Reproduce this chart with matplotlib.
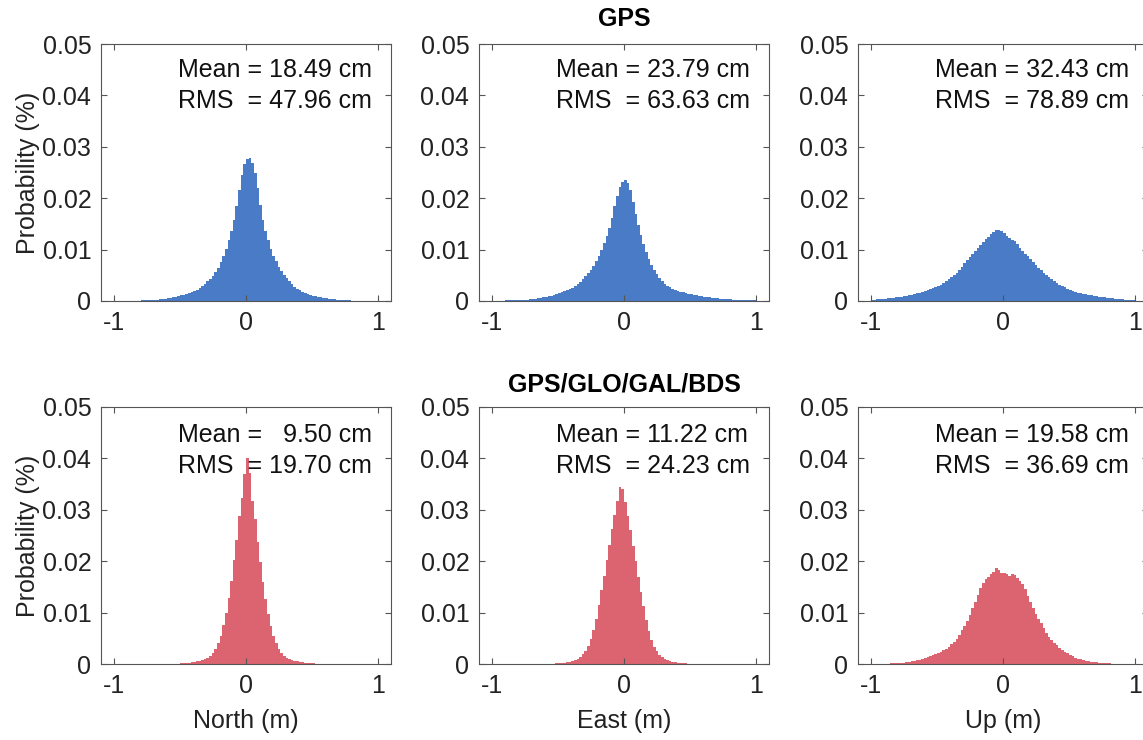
import numpy as np
import matplotlib.pyplot as plt

plt.rcParams["font.family"] = ["Liberation Sans", "DejaVu Sans"]

# bin edges (m), 0.02 m wide, shared by all panels
edges = np.linspace(-1.0, 1.0, 101)

# probability per bin (%), GPS only
gps_north = [0]*10 + [0.0001]*5 + [
    0.0002, 0.0002, 0.0003, 0.0003, 0.0004, 0.0005, 0.0006, 0.0007, 0.0008, 0.0010,
    0.0011, 0.0012, 0.0014, 0.0016, 0.0018, 0.0020, 0.0022, 0.0025, 0.0029, 0.0033,
    0.0038, 0.0043, 0.0049, 0.0056, 0.0065, 0.0075, 0.0088, 0.0102, 0.0119, 0.0137,
    0.0158, 0.0185, 0.0216, 0.0245, 0.0266, 0.0276, 0.0278, 0.0268, 0.0249, 0.0219,
    0.0186, 0.0158, 0.0136, 0.0118, 0.0101, 0.0087, 0.0077, 0.0067, 0.0058, 0.0051,
    0.0044, 0.0038, 0.0033, 0.0028, 0.0024, 0.0021, 0.0018, 0.0016, 0.0014, 0.0012,
    0.0010, 0.0009, 0.0008, 0.0007, 0.0006, 0.0005, 0.0004, 0.0003, 0.0003, 0.0002,
    0.0002] + [0.0001]*4 + [0]*10

gps_east = [0]*5 + [0.0001]*6 + [
    0.0002, 0.0002, 0.0002, 0.0003, 0.0003, 0.0004, 0.0005, 0.0006, 0.0007, 0.0008,
    0.0009, 0.0010, 0.0012, 0.0014, 0.0015, 0.0017, 0.0019, 0.0021, 0.0023, 0.0026,
    0.0029, 0.0033, 0.0037, 0.0042, 0.0048, 0.0054, 0.0061, 0.0069, 0.0078, 0.0088,
    0.0099, 0.0112, 0.0126, 0.0142, 0.0162, 0.0184, 0.0204, 0.0221, 0.0232, 0.0235,
    0.0229, 0.0216, 0.0192, 0.0169, 0.0148, 0.0128, 0.0111, 0.0095, 0.0082, 0.0071,
    0.0061, 0.0052, 0.0045, 0.0039, 0.0034, 0.0030, 0.0027, 0.0024, 0.0022, 0.0020,
    0.0018, 0.0017, 0.0015, 0.0014, 0.0013, 0.0012, 0.0011, 0.0010, 0.0009, 0.0008,
    0.0007, 0.0007, 0.0006, 0.0005, 0.0005, 0.0004, 0.0004, 0.0003, 0.0003, 0.0003,
    0.0002, 0.0002, 0.0002, 0.0002] + [0.0001]*5

gps_up = [
    0.0002, 0.0002, 0.0003, 0.0003, 0.0004, 0.0004, 0.0005, 0.0005, 0.0006, 0.0007,
    0.0007, 0.0008, 0.0009, 0.0010, 0.0011, 0.0012, 0.0014, 0.0015, 0.0016, 0.0018,
    0.0019, 0.0021, 0.0023, 0.0025, 0.0027, 0.0029, 0.0032, 0.0035, 0.0039, 0.0043,
    0.0047, 0.0051, 0.0055, 0.0061, 0.0067, 0.0073, 0.0079, 0.0085, 0.0091, 0.0097,
    0.0103, 0.0108, 0.0114, 0.0120, 0.0125, 0.0130, 0.0134, 0.0138, 0.0139, 0.0136,
    0.0132, 0.0127, 0.0122, 0.0118, 0.0116, 0.0110, 0.0104, 0.0098, 0.0092, 0.0087,
    0.0081, 0.0076, 0.0070, 0.0065, 0.0060, 0.0055, 0.0051, 0.0047, 0.0043, 0.0039,
    0.0035, 0.0032, 0.0029, 0.0027, 0.0024, 0.0022, 0.0020, 0.0018, 0.0016, 0.0015,
    0.0014, 0.0013, 0.0012, 0.0011, 0.0010, 0.0009, 0.0008, 0.0007, 0.0007, 0.0006,
    0.0005, 0.0005, 0.0004, 0.0004, 0.0003, 0.0003, 0.0002, 0.0002, 0.0002, 0.0001]

# probability per bin (%), GPS/GLO/GAL/BDS
multi_north = [0]*25 + [
    0.0001, 0.0001, 0.0002, 0.0002, 0.0003, 0.0004, 0.0005, 0.0006, 0.0007, 0.0009,
    0.0011, 0.0015, 0.0021, 0.0029, 0.0040, 0.0055, 0.0075, 0.0099, 0.0129, 0.0161,
    0.0202, 0.0242, 0.0287, 0.0322, 0.0370, 0.0400, 0.0372, 0.0318, 0.0283, 0.0238,
    0.0198, 0.0159, 0.0127, 0.0097, 0.0073, 0.0055, 0.0040, 0.0029, 0.0021, 0.0016,
    0.0012, 0.0009, 0.0007, 0.0006, 0.0005, 0.0004, 0.0003, 0.0002, 0.0002, 0.0001,
    0.0001] + [0]*24

multi_east = [0]*24 + [
    0.0001, 0.0001, 0.0002, 0.0002, 0.0003, 0.0004, 0.0006, 0.0008, 0.0010, 0.0014,
    0.0019, 0.0026, 0.0035, 0.0048, 0.0066, 0.0088, 0.0114, 0.0143, 0.0172, 0.0202,
    0.0232, 0.0262, 0.0290, 0.0318, 0.0345, 0.0340, 0.0316, 0.0288, 0.0260, 0.0230,
    0.0200, 0.0170, 0.0141, 0.0112, 0.0086, 0.0064, 0.0047, 0.0034, 0.0025, 0.0018,
    0.0013, 0.0010, 0.0007, 0.0005, 0.0004, 0.0003, 0.0002, 0.0001, 0.0001, 0.0001] + [0]*26

multi_up = [0]*7 + [
    0.0001, 0.0001, 0.0001, 0.0001, 0.0002, 0.0002, 0.0003, 0.0004, 0.0005, 0.0006,
    0.0007, 0.0008, 0.0010, 0.0011, 0.0013, 0.0015, 0.0017, 0.0019, 0.0021, 0.0024,
    0.0027, 0.0030, 0.0034, 0.0038, 0.0043, 0.0049, 0.0057, 0.0066, 0.0074, 0.0083,
    0.0095, 0.0108, 0.0121, 0.0134, 0.0147, 0.0158, 0.0165, 0.0170, 0.0175, 0.0179,
    0.0186, 0.0182, 0.0178, 0.0177, 0.0176, 0.0172, 0.0175, 0.0173, 0.0167, 0.0161,
    0.0156, 0.0146, 0.0133, 0.0120, 0.0109, 0.0098, 0.0088, 0.0079, 0.0070, 0.0061,
    0.0053, 0.0047, 0.0041, 0.0036, 0.0031, 0.0027, 0.0024, 0.0021, 0.0018, 0.0015,
    0.0012, 0.0010, 0.0009, 0.0007, 0.0006, 0.0005, 0.0004, 0.0003, 0.0003, 0.0002,
    0.0002, 0.0001, 0.0001, 0.0001] + [0]*9

gps_mean = ["18.49", "23.79", "32.43"]
gps_rms = ["47.96", "63.63", "78.89"]
multi_mean = ["  9.50", "11.22", "19.58"]
multi_rms = ["19.70", "24.23", "36.69"]

components = ["North (m)", "East (m)", "Up (m)"]
row_titles = ["GPS", "GPS/GLO/GAL/BDS"]
yticks = [0, 0.01, 0.02, 0.03, 0.04, 0.05]
ytick_labels = ["0", "0.01", "0.02", "0.03", "0.04", "0.05"]
xticks = [-1, 0, 1]

blue = "#4a7bc6"
red = "#dc6470"
fs = 18

fig = plt.figure(figsize=(11.43, 7.40), dpi=100)
W, H = 1143, 740
col_left = [101, 479, 858]
row_top = [44, 407]
ax_w, ax_h = 290, 257

rows = [
    (gps_north, gps_east, gps_up),
    (multi_north, multi_east, multi_up),
]
means = [gps_mean, multi_mean]
rmss = [gps_rms, multi_rms]
colors = [blue, red]
text_y = [(0.899, 0.778), (0.891, 0.770)]
title_pad = [13, 11]

for r in range(2):
    for c in range(3):
        ax = fig.add_axes([col_left[c] / W, (H - row_top[r] - ax_h) / H, ax_w / W, ax_h / H])
        ax.stairs(rows[r][c], edges, fill=True, color=colors[r], linewidth=0)
        ax.set_xlim(-1.1, 1.1)
        ax.set_ylim(0, 0.05)
        ax.set_xticks(xticks)
        ax.set_xticklabels([str(t) for t in xticks])
        ax.set_yticks(yticks)
        ax.set_yticklabels(ytick_labels)
        ax.tick_params(direction="in", top=True, right=True, length=4, width=0.8,
                       color="#555555", labelsize=fs, labelcolor="#222222", pad=7)
        for s in ax.spines.values():
            s.set_color("#555555")
            s.set_linewidth(0.8)
        ax.text(0.265, text_y[r][0], f"Mean = {means[r][c]} cm", transform=ax.transAxes,
                ha="left", va="center", fontsize=fs, color="#111111")
        ax.text(0.265, text_y[r][1], f"RMS  = {rmss[r][c]} cm", transform=ax.transAxes,
                ha="left", va="center", fontsize=fs, color="#111111")
        if c == 0:
            ax.set_ylabel("Probability (%)", fontsize=fs, color="#222222", labelpad=2)
        if r == 1:
            ax.set_xlabel(components[c], fontsize=fs, color="#222222", labelpad=8)
        if c == 1:
            ax.set_title(row_titles[r], fontsize=fs, fontweight="bold", pad=title_pad[r])

fig.savefig("out.png", dpi=100)
